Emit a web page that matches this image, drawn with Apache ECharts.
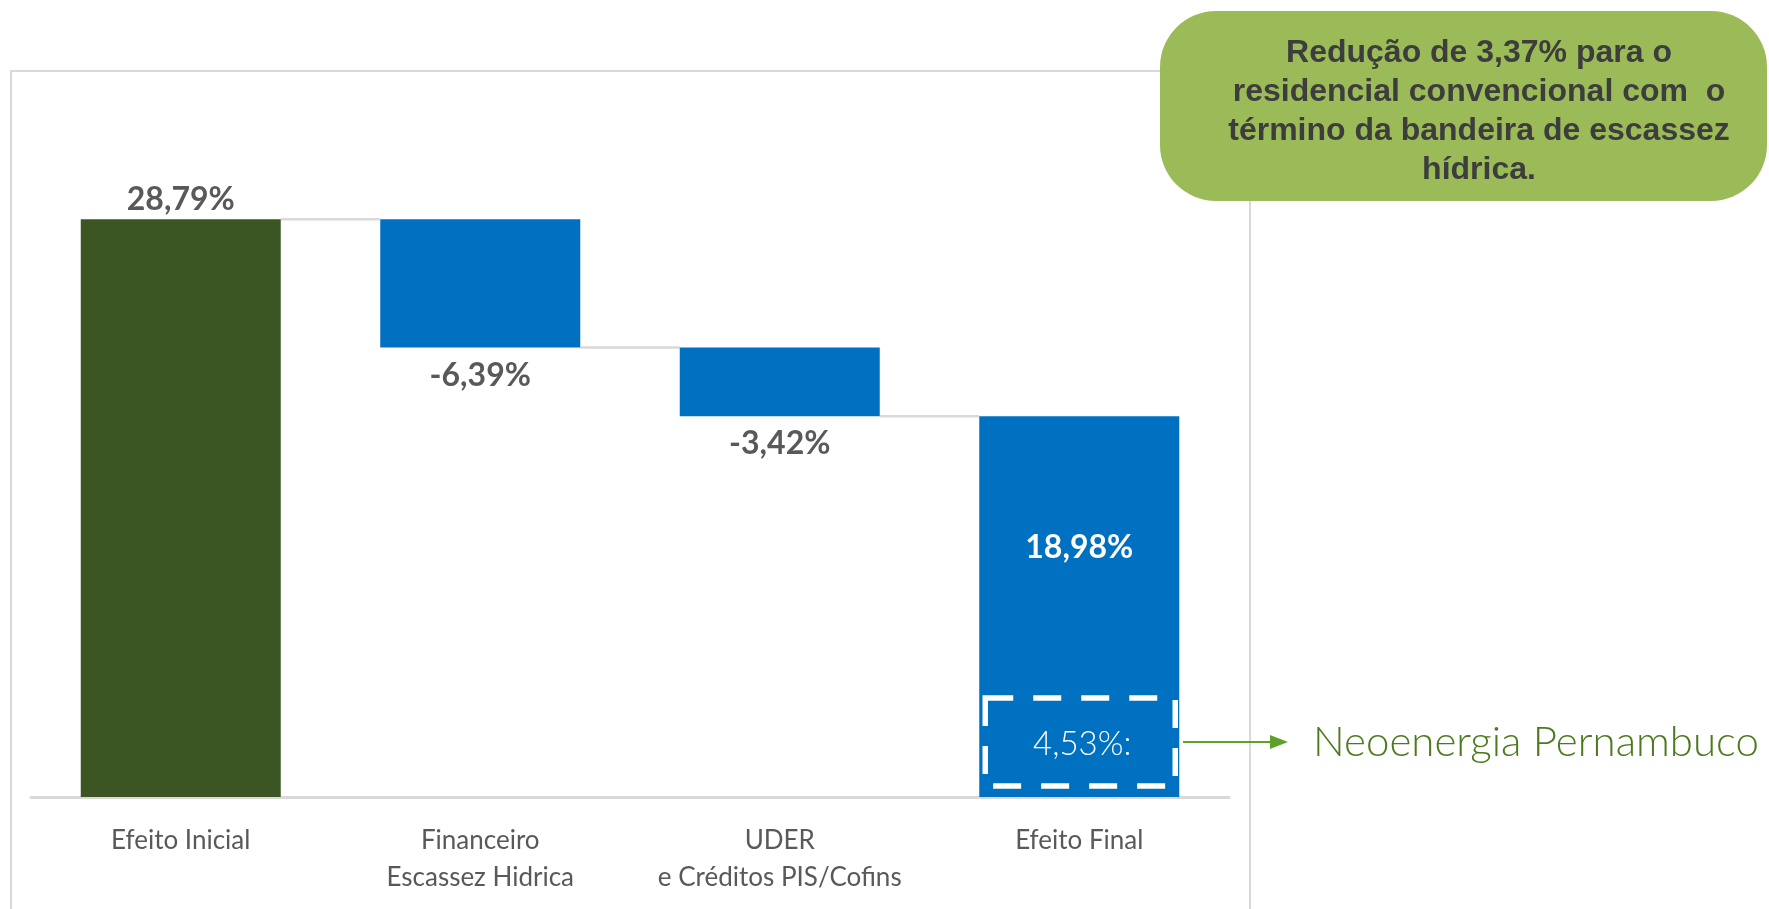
<!DOCTYPE html>
<html>
<head>
<meta charset="utf-8">
<script src="https://cdn.jsdelivr.net/npm/echarts@6/dist/echarts.min.js"></script>
<style>
  html, body { margin: 0; padding: 0; background: #fff; }
  #main { width: 1769px; height: 909px; }
</style>
</head>
<body>
<div id="main"></div>
<script>
const categories = ['Efeito Inicial', 'Financeiro\nEscassez Hidrica', 'UDER\ne Créditos PIS/Cofins', 'Efeito Final']
const startValue = 28.79
const steps = [-6.39, -3.42]
const finalValue = 18.98
const highlightValue = 4.53

const fmt = v => v.toFixed(2).replace('.', ',') + '%'

// build the waterfall: invisible base + visible part
const base = [0]
const visible = [startValue]
const levels = [startValue]
let level = startValue
steps.forEach(s => {
  const next = level + s
  base.push(Math.min(level, next))
  visible.push(Math.abs(s))
  level = next
  levels.push(level)
})
base.push(0)
visible.push(finalValue)
const texts = [fmt(startValue)].concat(steps.map(fmt), [fmt(finalValue)])

const chart = echarts.init(document.getElementById('main'))
const BW = 200
const darkText = '#595959'

const option = {
  animation: false,
  grid: { left: 31, width: 1198, top: 195, bottom: 112 },
  xAxis: {
    type: 'category',
    data: categories,
    axisLine: { lineStyle: { color: '#d9d9d9', width: 3 } },
    axisTick: { show: false },
    axisLabel: {
      interval: 0, hideOverlap: false,
      color: darkText, fontFamily: 'Lato', fontSize: 26, lineHeight: 37, margin: 25
    }
  },
  yAxis: { type: 'value', min: 0, max: 30, show: false, splitLine: { show: false } },
  series: [
    {
      type: 'bar', stack: 'w', barWidth: BW, data: base,
      itemStyle: { color: 'transparent' }, silent: true
    },
    {
      type: 'bar', stack: 'w', barWidth: BW,
      data: visible.map((v, i) => {
        const item = { value: v }
        if (i === 0) {
          item.itemStyle = { color: '#3b5623' }
          item.label = { position: 'top', distance: 4 }
        } else if (i === visible.length - 1) {
          item.itemStyle = { color: '#0070c0' }
          item.label = { position: 'insideTop', distance: 116, color: '#fff' }
        } else {
          item.itemStyle = { color: '#0070c0' }
          item.label = { position: 'bottom', distance: 12 }
        }
        return item
      }),
      label: {
        show: true, color: darkText, fontFamily: 'Lato', fontWeight: 'bold', fontSize: 32,
        formatter: p => texts[p.dataIndex]
      }
    },
    {
      // connector lines between bars
      type: 'custom',
      data: levels.map((v, i) => [i, v]),
      z: 1,
      renderItem: (params, api) => {
        const a = api.coord([api.value(0), api.value(1)])
        const b = api.coord([api.value(0) + 1, api.value(1)])
        return {
          type: 'line',
          shape: { x1: a[0] + BW / 2, y1: a[1], x2: b[0] - BW / 2, y2: a[1] },
          style: { stroke: '#d9d9d9', lineWidth: 2.5 }
        }
      }
    },
    {
      // dashed highlight box on the final bar
      type: 'custom',
      data: [[categories.length - 1, highlightValue]],
      z: 5,
      renderItem: (params, api) => {
        const top = api.coord([api.value(0), api.value(1)])
        const bot = api.coord([api.value(0), 0])
        const x = top[0] - BW / 2 + 6
        const y = top[1] - 8
        const w = BW - 10
        const h = bot[1] - 11 - y
        return {
          type: 'group',
          children: [
            {
              type: 'rect',
              shape: { x: x, y: y, width: w, height: h },
              style: { fill: 'none', stroke: '#fff', lineWidth: 5.5, lineDash: [28, 20] }
            },
            {
              type: 'text',
              style: {
                text: fmt(api.value(1)) + ':', x: top[0] + 3, y: y + h / 2 + 2,
                fill: '#fff', font: '300 33px Lato', align: 'center', verticalAlign: 'middle'
              }
            }
          ]
        }
      }
    }
  ],
  graphic: [
    {
      type: 'rect', z: -1, silent: true,
      shape: { x: 11, y: 71, width: 1239, height: 860 },
      style: { fill: 'none', stroke: '#d9d9d9', lineWidth: 2 }
    },
    {
      type: 'line',
      shape: { x1: 1183, y1: 742, x2: 1272, y2: 742 },
      style: { stroke: '#5ea12a', lineWidth: 2 }
    },
    {
      type: 'polygon',
      shape: { points: [[1270, 735], [1288, 742], [1270, 749]] },
      style: { fill: '#5ea12a' }
    },
    {
      type: 'text', x: 1313, y: 742,
      style: {
        text: 'Neoenergia Pernambuco', fill: '#4e7a1f', font: '300 42px Lato',
        verticalAlign: 'middle'
      }
    },
    {
      type: 'rect', z: 10,
      shape: { x: 1160, y: 11, width: 607, height: 190, r: 56 },
      style: { fill: '#9bbb59' }
    },
    {
      type: 'text', z: 11, x: 1479, y: 34,
      style: {
        text: 'Redução de 3,37% para o\nresidencial convencional com  o\ntérmino da bandeira de escassez\nhídrica.',
        fill: '#3d3d3d', font: 'bold 32px "Liberation Sans"', lineHeight: 39, align: 'center'
      }
    }
  ]
}
chart.setOption(option)
</script>
</body>
</html>
